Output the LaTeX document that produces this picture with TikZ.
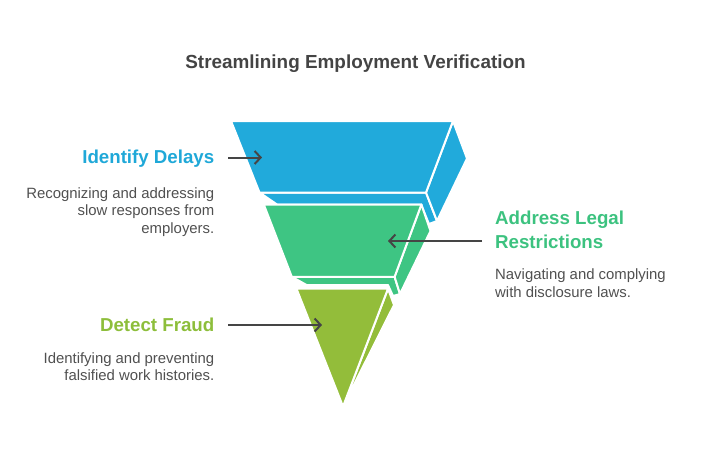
\documentclass[tikz,border=0pt]{standalone}
\usepackage{fontspec}
\setmainfont{Liberation Sans}
\usetikzlibrary{arrows.meta}
\definecolor{cblue}{HTML}{21AADB}
\definecolor{cgreen}{HTML}{3EC583}
\definecolor{cyel}{HTML}{93BD3A}
\definecolor{tblue}{HTML}{1FA8D8}
\definecolor{tgreen}{HTML}{3CC27F}
\definecolor{tyel}{HTML}{8DBE3B}
\definecolor{ttl}{HTML}{444444}
\definecolor{desc}{HTML}{505050}
\definecolor{arr}{HTML}{454545}
\tikzset{
  face/.style={draw=white, line width=2pt, line join=round},
  ttlfont/.style={font=\fontsize{18.9}{22}\selectfont\bfseries, text=ttl, inner sep=0pt},
  lbl/.style={font=\fontsize{18.7}{24}\selectfont\bfseries, inner sep=0pt},
  dsc/.style={font=\fontsize{14.9}{17.3}\selectfont, text=desc, inner sep=0pt},
  conn/.style={draw=arr, line width=2pt, -{Straight Barb[length=6pt,width=13pt,line width=2pt]}}
}
\begin{document}
\begin{tikzpicture}[x=1pt,y=-1pt]
\useasboundingbox (0,0) rectangle (710,459);
% blue slice
\fill[cblue, face] (259.5,192.5) -- (426,192.5) -- (437,221) -- (429,224) -- (421,204.5) -- (277,204.5) -- cycle;
\fill[cblue, face] (453,121) -- (467,158.5) -- (437,221) -- (426,192.5) -- cycle;
\fill[cblue, face] (231,121) -- (453,121) -- (426,192.5) -- (259.5,192.5) -- cycle;
% green slice
\fill[cgreen, face] (291.8,276.8) -- (394.6,276.8) -- (400,294) -- (393,296) -- (388,285) -- (306.6,285) -- cycle;
\fill[cgreen, face] (421.4,204.5) -- (430.5,231) -- (400,294) -- (394.6,276.8) -- cycle;
\fill[cgreen, face] (263.8,204.5) -- (421.4,204.5) -- (394.6,276.8) -- (291.8,276.8) -- cycle;
% yellow slice
\fill[cyel, face] (388,288.7) -- (394,305) -- (343,406.5) -- cycle;
\fill[cyel, face] (296.5,288.7) -- (388,288.7) -- (343,406.5) -- cycle;
% title
\node[ttlfont, anchor=base] (title) at (355.5,68) {Streamlining Employment Verification};
% labels (base anchor = baseline of last line)
\node[lbl, text=tblue, anchor=base east] (l1) at (214.5,163) {Identify Delays};
\node[dsc, align=right, anchor=base east] (d1) at (214.5,233) {Recognizing and addressing\\slow responses from\\employers.};
\node[lbl, text=tgreen, anchor=base west, align=left] (l2) at (495,248.3) {Address Legal\\Restrictions};
\node[dsc, align=left, anchor=base west] (d2) at (495,297) {Navigating and complying\\with disclosure laws.};
\node[lbl, text=tyel, anchor=base east] (l3) at (214.5,331) {Detect Fraud};
\node[dsc, align=right, anchor=base east] (d3) at (214.5,380.8) {Identifying and preventing\\falsified work histories.};
% connectors
\coordinate (a1s) at (228,157.5);
\coordinate (a1e) at (262,157.5);
\coordinate (a2s) at (482,241);
\coordinate (a2e) at (388,241);
\coordinate (a3s) at (228,325);
\coordinate (a3e) at (322,325);
\draw[conn] (a1s) -- (a1e);
\draw[conn] (a2s) -- (a2e);
\draw[conn] (a3s) -- (a3e);
\end{tikzpicture}
\end{document}
